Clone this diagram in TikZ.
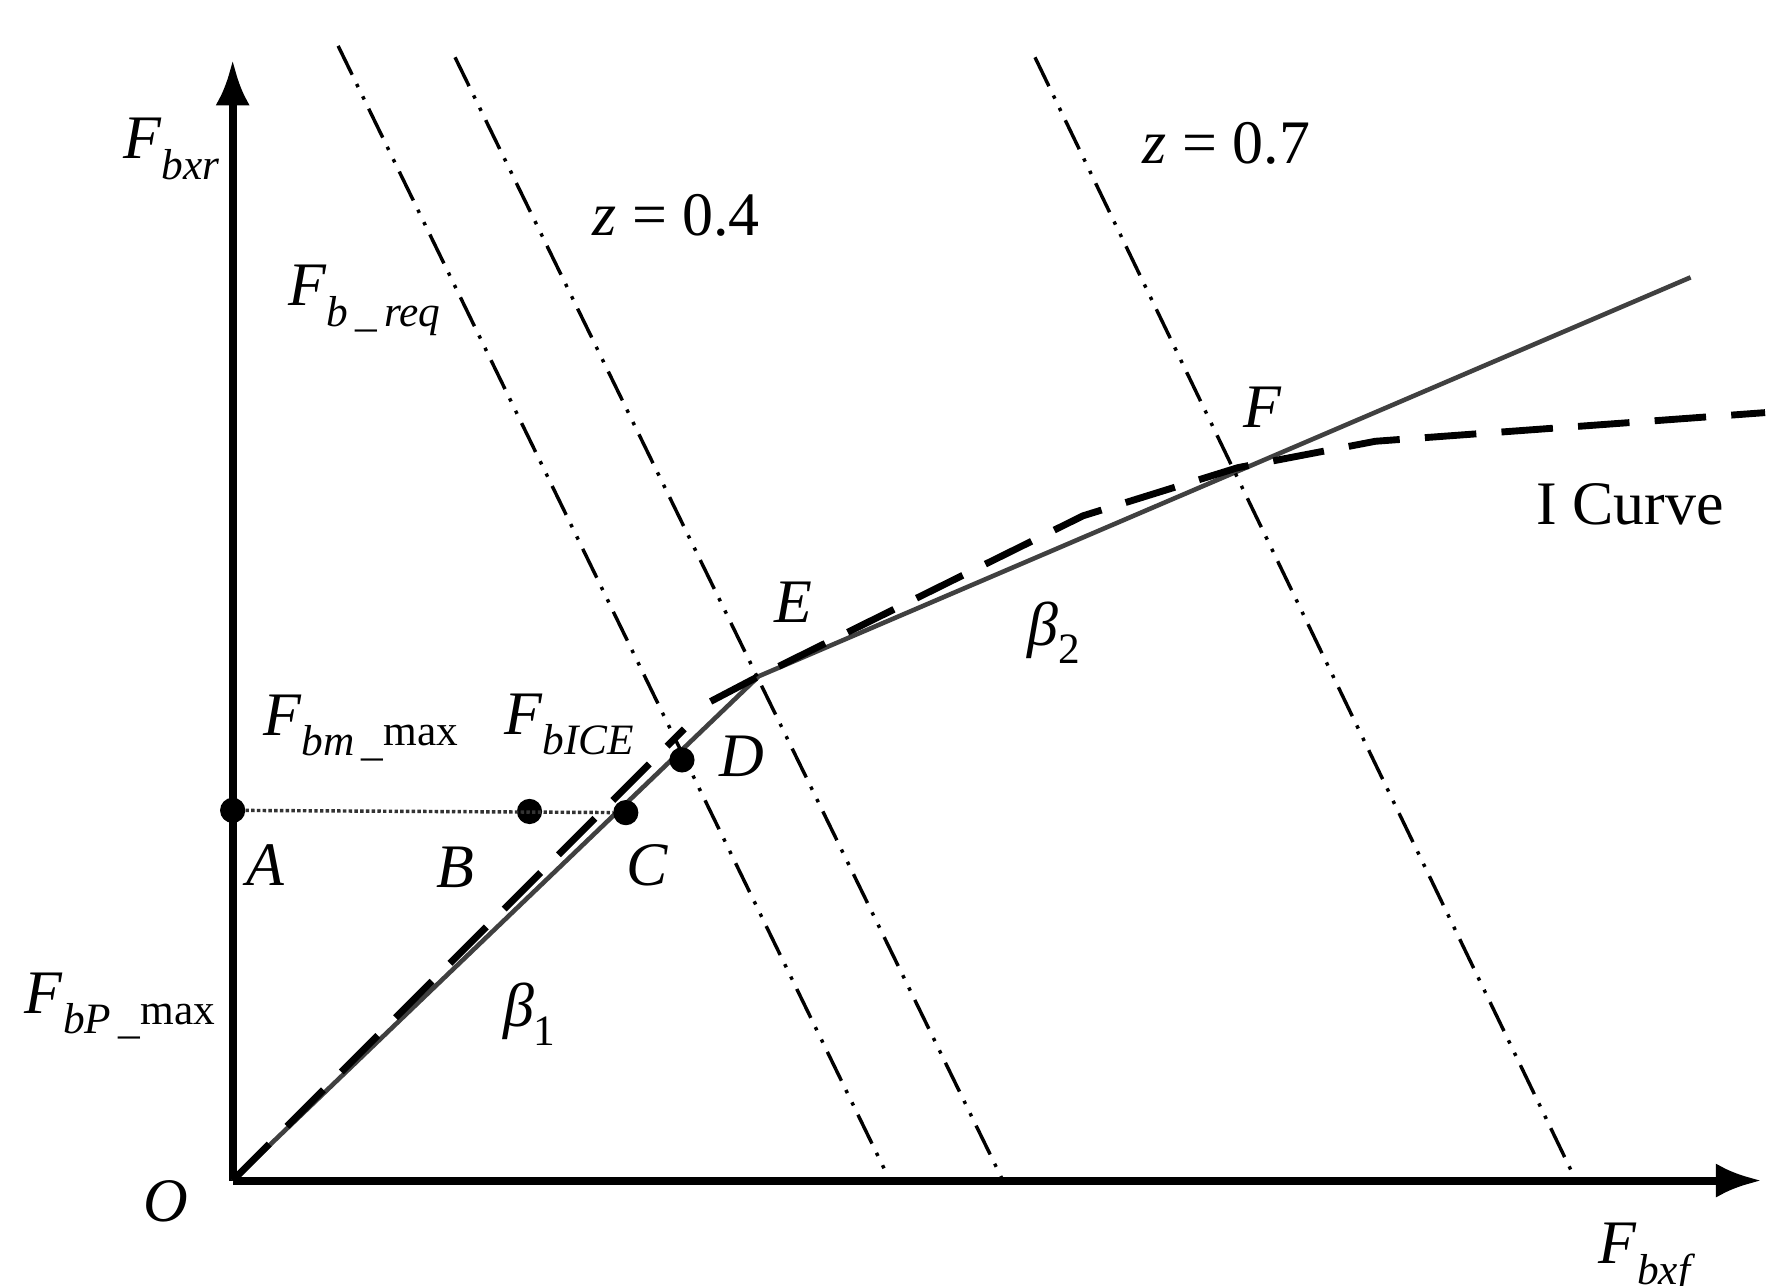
\documentclass[tikz,border=0pt]{standalone}
\usepackage{fontspec}
\setmainfont{Liberation Serif}
\usetikzlibrary{arrows.meta}
\newcommand{\sbx}[1]{\textsubscript{\itshape #1}}
\begin{document}
\begin{tikzpicture}[x=1pt,y=-1pt,
  lab/.style={inner sep=0pt,font=\fontsize{54}{60}\selectfont},
  dot/.style={circle,fill=black,inner sep=0pt,minimum size=22pt},
  dd/.style={line width=3pt,dash pattern=on 28pt off 9pt on 3pt off 9pt on 3pt off 9pt}]
\useasboundingbox (0,0) rectangle (1560,1122);
\coordinate (O) at (203,1030);
\coordinate (Ytop) at (203,52);
\coordinate (Xend) at (1537,1030);
\draw[line width=7pt,-{Latex[length=40pt,width=30pt]}] (O)--(Ytop);
\draw[line width=7pt,-{Latex[length=40pt,width=30pt]}] (O)--(Xend);
\coordinate (E) at (662,590);
\coordinate (S3) at (1475,242);
\draw[line width=4pt,black!75] (O)--(E)--(S3);
\draw[dd] (295,40)--(775,1027);
\draw[dd] (397,50)--(875,1030);
\draw[dd] (903,50)--(1375,1030);
\draw[line width=6pt,dash pattern=on 45pt off 22pt] (O)--(597,636);
\draw[line width=6pt,dash pattern=on 45pt off 22pt] (620,612)--(662,590)--(945,450)--(1080,408)--(1200,385)--(1540,360);
\node[dot] (A) at (203,707) {};
\node[dot] (B) at (462,708) {};
\node[dot] (C) at (546,709) {};
\node[dot] (D) at (595,663) {};
\draw[line width=3pt,dotted,black!80] (A)--(C);
\node[lab] at (150,130) {\textit{F}\sbx{bxr}};
\node[lab] at (318,262) {\textit{F}\sbx{b\,\_\,req}};
\node[lab] at (590,188) {\textit{z} = 0.4};
\node[lab] at (1070,125) {\textit{z} = 0.7};
\node[lab] at (1102,355) {\textit{F}};
\node[lab] at (1422,440) {I Curve};
\node[lab] at (692,525) {\textit{E}};
\node[lab] at (920,552) {\textit{β}\textsubscript{2}};
\node[lab] at (315,635) {\textit{F}\sbx{bm\,\_}\textsubscript{max}};
\node[lab] at (497,632) {\textit{F}\sbx{bICE}};
\node[lab] at (647,660) {\textit{D}};
\node[lab] at (232,755) {\textit{A}};
\node[lab] at (397,757) {\textit{B}};
\node[lab] at (565,755) {\textit{C}};
\node[lab] at (105,878) {\textit{F}\sbx{bP\,\_}\textsubscript{max}};
\node[lab] at (462,885) {\textit{β}\textsubscript{1}};
\node[lab] at (145,1048) {\textit{O}};
\node[lab] at (1435,1098) {\textit{F}\sbx{bxf}};
\end{tikzpicture}
\end{document}
